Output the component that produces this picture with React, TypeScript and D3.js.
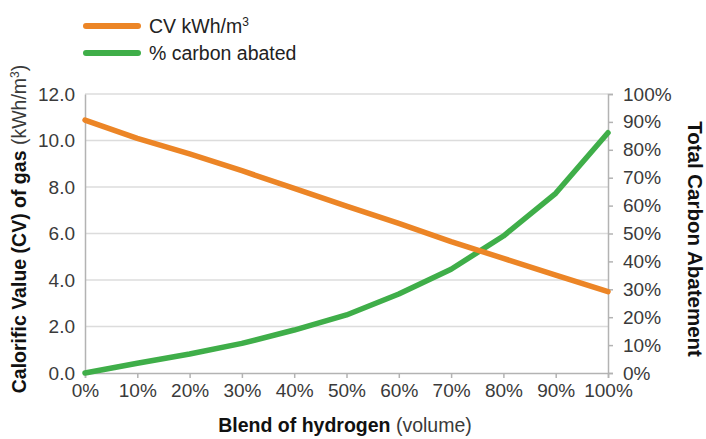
import React, { useEffect, useRef } from "react";
import * as d3 from "d3";

const blends = [0, 10, 20, 30, 40, 50, 60, 70, 80, 90, 100];
const cvValues = [10.88, 10.09, 9.42, 8.7, 7.94, 7.18, 6.44, 5.65, 4.93, 4.21, 3.5];
const carbonAbated = [0, 3.5, 6.8, 10.6, 15.4, 20.8, 28.3, 37.2, 49.1, 64.4, 86.1];
const leftTicks = [0, 2, 4, 6, 8, 10, 12];
const rightTicks = [0, 10, 20, 30, 40, 50, 60, 70, 80, 90, 100];

const ORANGE = "#ec8526";
const GREEN = "#3fae49";
const FONT = "'Liberation Sans', Arial, Helvetica, sans-serif";

const App = () => {
  const svgRef = useRef<SVGSVGElement>(null);

  useEffect(() => {
    const width = 706;
    const height = 439;
    const margin = { top: 94, right: 98, bottom: 66, left: 85 };
    const innerW = width - margin.left - margin.right;
    const innerH = height - margin.top - margin.bottom;

    const root = d3.select(svgRef.current);
    root.selectAll("*").remove();
    const svg = root
      .append("g")
      .attr("transform", `translate(${margin.left},${margin.top})`);

    const x = d3.scaleLinear().domain([0, 100]).range([0, innerW]);
    const yLeft = d3.scaleLinear().domain([0, 12]).range([innerH, 0]);
    const yRight = d3.scaleLinear().domain([0, 100]).range([innerH, 0]);

    // gridlines
    svg
      .append("g")
      .selectAll("line")
      .data(leftTicks.filter((d) => d > 0))
      .enter()
      .append("line")
      .attr("x1", 0)
      .attr("x2", innerW)
      .attr("y1", (d) => yLeft(d))
      .attr("y2", (d) => yLeft(d))
      .attr("stroke", "#dcdcdc")
      .attr("stroke-width", 1.5);

    // left axis
    const left = svg
      .append("g")
      .call(
        d3
          .axisLeft(yLeft)
          .tickValues(leftTicks)
          .tickSize(0)
          .tickPadding(10)
          .tickFormat(d3.format(".1f"))
      );
    left.select(".domain").attr("stroke", "#b3b3b3").attr("stroke-width", 1.5);

    // right axis
    const right = svg
      .append("g")
      .attr("transform", `translate(${innerW},0)`)
      .call(
        d3
          .axisRight(yRight)
          .tickValues(rightTicks)
          .tickSize(5)
          .tickPadding(10)
          .tickFormat((d) => `${d}%`)
      );
    right.select(".domain").attr("stroke", "#b3b3b3").attr("stroke-width", 1.5);
    right.selectAll(".tick line").attr("stroke", "#b3b3b3").attr("stroke-width", 1.5);

    // bottom axis
    const bottom = svg
      .append("g")
      .attr("transform", `translate(0,${innerH})`)
      .call(
        d3
          .axisBottom(x)
          .tickValues(blends)
          .tickSize(5)
          .tickPadding(6)
          .tickFormat((d) => `${d}%`)
      );
    bottom.select(".domain").attr("stroke", "#b3b3b3").attr("stroke-width", 1.5);
    bottom.selectAll(".tick line").attr("stroke", "#b3b3b3").attr("stroke-width", 1.5);

    [left, right, bottom].forEach((g) =>
      g
        .selectAll(".tick text")
        .attr("fill", "#3a3a3a")
        .style("font-size", "19px")
        .style("font-family", FONT)
    );

    // lines
    const cvLine = d3
      .line<number>()
      .x((_, i) => x(blends[i]))
      .y((d) => yLeft(d));
    const carbonLine = d3
      .line<number>()
      .x((_, i) => x(blends[i]))
      .y((d) => yRight(d));

    svg
      .append("path")
      .datum(carbonAbated)
      .attr("d", carbonLine)
      .attr("fill", "none")
      .attr("stroke", GREEN)
      .attr("stroke-width", 5.5)
      .attr("stroke-linejoin", "round")
      .attr("stroke-linecap", "round");

    svg
      .append("path")
      .datum(cvValues)
      .attr("d", cvLine)
      .attr("fill", "none")
      .attr("stroke", ORANGE)
      .attr("stroke-width", 5.5)
      .attr("stroke-linejoin", "round")
      .attr("stroke-linecap", "round");

    // axis titles
    const bottomTitle = root
      .append("text")
      .attr("x", 345)
      .attr("y", 432)
      .attr("text-anchor", "middle")
      .style("font-family", FONT)
      .style("font-size", "19.5px")
      .attr("fill", "#111");
    bottomTitle.append("tspan").attr("font-weight", "bold").text("Blend of hydrogen");
    bottomTitle.append("tspan").attr("fill", "#3a3a3a").text(" (volume)");

    const leftTitle = root
      .append("text")
      .attr("transform", `translate(26,${229}) rotate(-90)`)
      .attr("text-anchor", "middle")
      .style("font-family", FONT)
      .style("font-size", "19.5px")
      .attr("fill", "#111");
    leftTitle.append("tspan").attr("font-weight", "bold").text("Calorific Value (CV) of gas");
    leftTitle.append("tspan").attr("fill", "#3a3a3a").text(" (kWh/m");
    leftTitle
      .append("tspan")
      .attr("fill", "#3a3a3a")
      .attr("baseline-shift", "super")
      .style("font-size", "12px")
      .text("3");
    leftTitle.append("tspan").attr("fill", "#3a3a3a").text(")");

    root
      .append("text")
      .attr("transform", `translate(688,${239}) rotate(90)`)
      .attr("text-anchor", "middle")
      .style("font-family", FONT)
      .style("font-size", "20.5px")
      .attr("font-weight", "bold")
      .attr("fill", "#111")
      .text("Total Carbon Abatement");

    // legend
    const legendItems = [
      { label: "CV kWh/m", sup: "3", color: ORANGE },
      { label: "% carbon abated", sup: "", color: GREEN },
    ];
    const legend = root
      .selectAll(".legend")
      .data(legendItems)
      .enter()
      .append("g")
      .attr("class", "legend")
      .attr("transform", (_, i) => `translate(86,${26 + i * 27})`);
    legend
      .append("line")
      .attr("x1", 0)
      .attr("x2", 52)
      .attr("stroke", (d) => d.color)
      .attr("stroke-width", 6)
      .attr("stroke-linecap", "round");
    const legendText = legend
      .append("text")
      .attr("x", 63)
      .attr("y", 7)
      .style("font-family", FONT)
      .style("font-size", "19.5px")
      .attr("fill", "#222");
    legendText.append("tspan").text((d) => d.label);
    legendText
      .append("tspan")
      .attr("baseline-shift", "super")
      .style("font-size", "12px")
      .text((d) => d.sup);
  }, []);

  return (
    <svg
      ref={svgRef}
      width={706}
      height={439}
      style={{ position: "absolute", left: 0, top: 0, background: "#fff" }}
    />
  );
};

export default App;
